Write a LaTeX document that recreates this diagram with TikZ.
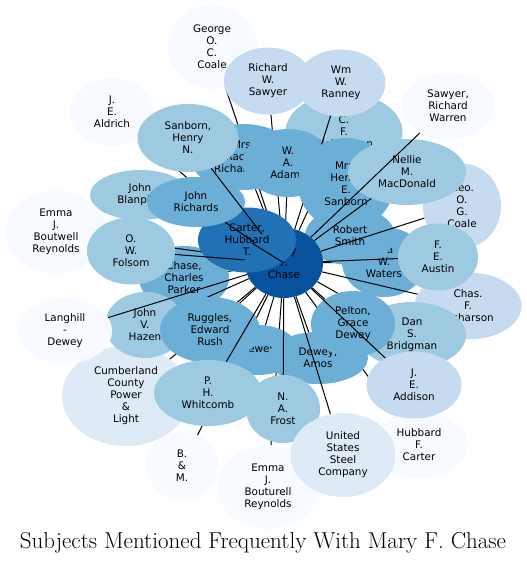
\documentclass[tikz,border=0pt]{standalone}
\usepackage{fontspec}
\newfontfamily\subjfont{DejaVu Sans}
\usetikzlibrary{shapes.geometric}

\definecolor{blA}{HTML}{F7FBFF}
\definecolor{blB}{HTML}{DEEBF7}
\definecolor{blC}{HTML}{C6DBEF}
\definecolor{blD}{HTML}{9ECAE1}
\definecolor{blE}{HTML}{6BAED6}
\definecolor{blG}{HTML}{2171B5}
\definecolor{blH}{HTML}{08519C}

\begin{document}
\begin{tikzpicture}[
  x=1pt, y=-1pt,
  subj/.style={ellipse, inner sep=0pt, align=center,
               font=\subjfont\fontsize{10.4}{12}\selectfont},
  link/.style={draw=black, line width=1pt}
]
  \useasboundingbox (0,0) rectangle (527,565);

  % hub, only for the link ends
  \node[subj, minimum width=78pt, minimum height=70pt] (chase) at (284,263) {};

  % outer subjects first
  \node[subj, fill=blA, minimum width=90pt, minimum height=84pt]
    (gocoale) at (212,47) {George\\O.\\C.\\Coale};
  \draw[link] (chase) -- (gocoale);
  \node[subj, fill=blA, minimum width=83pt, minimum height=68pt]
    (aldrich) at (112,112) {J.\\E.\\Aldrich};
  \draw[link] (chase) -- (aldrich);
  \node[subj, fill=blC, minimum width=88pt, minimum height=67pt]
    (rwsawyer) at (268,81) {Richard\\W.\\Sawyer};
  \draw[link] (chase) -- (rwsawyer);
  \node[subj, fill=blD, minimum width=117pt, minimum height=78pt]
    (cfrich) at (344,132) {C.\\F.\\Richardson};
  \draw[link] (chase) -- (cfrich);
  \node[subj, fill=blA, minimum width=97pt, minimum height=66pt]
    (hfcarter) at (419,445) {Hubbard\\F.\\Carter};
  \draw[link] (chase) -- (hfcarter);
  \node[subj, fill=blA, minimum width=102pt, minimum height=84pt]
    (bouturell) at (268,487) {Emma\\J.\\Bouturell\\Reynolds};
  \draw[link] (chase) -- (bouturell);
  \node[subj, fill=blA, minimum width=72pt, minimum height=68pt]
    (bandm) at (182,466) {B.\\\&\\M.};
  \draw[link] (chase) -- (bandm);
  \node[subj, fill=blB, minimum width=128pt, minimum height=100pt]
    (cumberland) at (126,396) {Cumberland\\County\\Power\\\&\\Light};
  \draw[link] (chase) -- (cumberland);
  \node[subj, fill=blD, minimum width=100pt, minimum height=50pt]
    (blanpied) at (140,195) {John\\Blanpied};
  \draw[link] (chase) -- (blanpied);
  \node[subj, fill=blE, minimum width=90pt, minimum height=64pt]
    (cpchase) at (184,278) {Chase,\\Charles\\Parker};
  \draw[link] (chase) -- (cpchase);
  \node[subj, fill=blA, minimum width=102pt, minimum height=83pt]
    (boutwell) at (56,232) {Emma\\J.\\Boutwell\\Reynolds};
  \draw[link] (chase) -- (boutwell);
  \node[subj, fill=blD, minimum width=80pt, minimum height=66pt]
    (hazen) at (145,325) {John\\V.\\Hazen};
  \draw[link] (chase) -- (hazen);
  \node[subj, fill=blA, minimum width=94pt, minimum height=66pt]
    (langhill) at (65,331) {Langhill\\-\\Dewey};
  \draw[link] (chase) -- (langhill);

  % inner ring
  \node[subj, fill=blE, minimum width=106pt, minimum height=66pt]
    (rachel) at (243,157) {Mrs.\\Rachel\\Richardson};
  \draw[link] (chase) -- (rachel);
  \node[subj, fill=blE, minimum width=90pt, minimum height=68pt]
    (adams) at (288,163) {W.\\A.\\Adams};
  \draw[link] (chase) -- (adams);
  \node[subj, fill=blC, minimum width=89pt, minimum height=67pt]
    (ranney) at (341,83) {Wm\\W.\\Ranney};
  \draw[link] (chase) -- (ranney);
  \node[subj, fill=blE, minimum width=96pt, minimum height=92pt]
    (mrssanborn) at (346,184) {Mrs.\\Henry\\E.\\Sanborn};
  \draw[link] (chase) -- (mrssanborn);
  \node[subj, fill=blE, minimum width=84pt, minimum height=70pt]
    (waters) at (384,262) {Ella\\W.\\Waters};
  \draw[link] (chase) -- (waters);
  \node[subj, fill=blE, minimum width=90pt, minimum height=58pt]
    (rsmith) at (350,236) {Robert\\Smith};
  \draw[link] (chase) -- (rsmith);
  \node[subj, fill=blC, minimum width=78pt, minimum height=85pt]
    (gogcoale) at (462,206) {Geo.\\O.\\G.\\Coale};
  \draw[link] (chase) -- (gogcoale);
  \node[subj, fill=blD, minimum width=118pt, minimum height=66pt]
    (macdonald) at (407,172) {Nellie\\M.\\MacDonald};
  \draw[link] (chase) -- (macdonald);
  \node[subj, fill=blA, minimum width=94pt, minimum height=67pt]
    (rwarren) at (448,106) {Sawyer,\\Richard\\Warren};
  \draw[link] (chase) -- (rwarren);
  \node[subj, fill=blC, minimum width=107pt, minimum height=67pt]
    (richarson) at (468,306) {Chas.\\F.\\Richarson};
  \draw[link] (chase) -- (richarson);
  \node[subj, fill=blD, minimum width=80pt, minimum height=67pt]
    (austin) at (438,257) {F.\\E.\\Austin};
  \draw[link] (chase) -- (austin);
  \node[subj, fill=blE, minimum width=80pt, minimum height=50pt]
    (dewey) at (258,350) {Dewey};
  \draw[link] (chase) -- (dewey);
  \node[subj, fill=blE, minimum width=100pt, minimum height=52pt]
    (amos) at (318,358) {Dewey,\\Amos};
  \draw[link] (chase) -- (amos);
  \node[subj, fill=blD, minimum width=108pt, minimum height=66pt]
    (bridgman) at (412,335) {Dan\\S.\\Bridgman};
  \draw[link] (chase) -- (bridgman);
  \node[subj, fill=blE, minimum width=84pt, minimum height=66pt]
    (pelton) at (353,324) {Pelton,\\Grace\\Dewey};
  \draw[link] (chase) -- (pelton);
  \node[subj, fill=blC, minimum width=95pt, minimum height=67pt]
    (addison) at (414,385) {J.\\E.\\Addison};
  \draw[link] (chase) -- (addison);
  \node[subj, fill=blE, minimum width=100pt, minimum height=66pt]
    (ruggles) at (210,330) {Ruggles,\\Edward\\Rush};
  \draw[link] (chase) -- (ruggles);
  \node[subj, fill=blD, minimum width=108pt, minimum height=66pt]
    (whitcomb) at (208,393) {P.\\H.\\Whitcomb};
  \draw[link] (chase) -- (whitcomb);
  \node[subj, fill=blD, minimum width=74pt, minimum height=68pt]
    (frost) at (283,409) {N.\\A.\\Frost};
  \draw[link] (chase) -- (frost);
  \node[subj, fill=blB, minimum width=105pt, minimum height=84pt]
    (steel) at (343,455) {United\\States\\Steel\\Company};
  \draw[link] (chase) -- (steel);

  % the subject herself, then the ones over her
  \node[subj, fill=blH, minimum width=78pt, minimum height=70pt]
    (chasefill) at (chase) {Mary\\F.\\Chase};
  \node[subj, fill=blG, minimum width=98pt, minimum height=65pt]
    (hubbard) at (247,240) {Carter,\\Hubbard\\T.};
  \draw[link] (chase) -- (hubbard);
  \node[subj, fill=blE, minimum width=98pt, minimum height=50pt]
    (jrichards) at (196,202) {John\\Richards};
  \draw[link] (chase) -- (jrichards);
  \node[subj, fill=blD, minimum width=101pt, minimum height=68pt]
    (hnsanborn) at (188,138) {Sanborn,\\Henry\\N.};
  \draw[link] (chase) -- (hnsanborn);
  \node[subj, fill=blD, minimum width=88pt, minimum height=67pt]
    (folsom) at (131,251) {O.\\W.\\Folsom};
  \draw[link] (chase) -- (folsom);

  % title
  \node[font=\fontsize{23}{27}\selectfont] (title) at (263,543)
    {Subjects Mentioned Frequently With Mary F. Chase};
\end{tikzpicture}
\end{document}
